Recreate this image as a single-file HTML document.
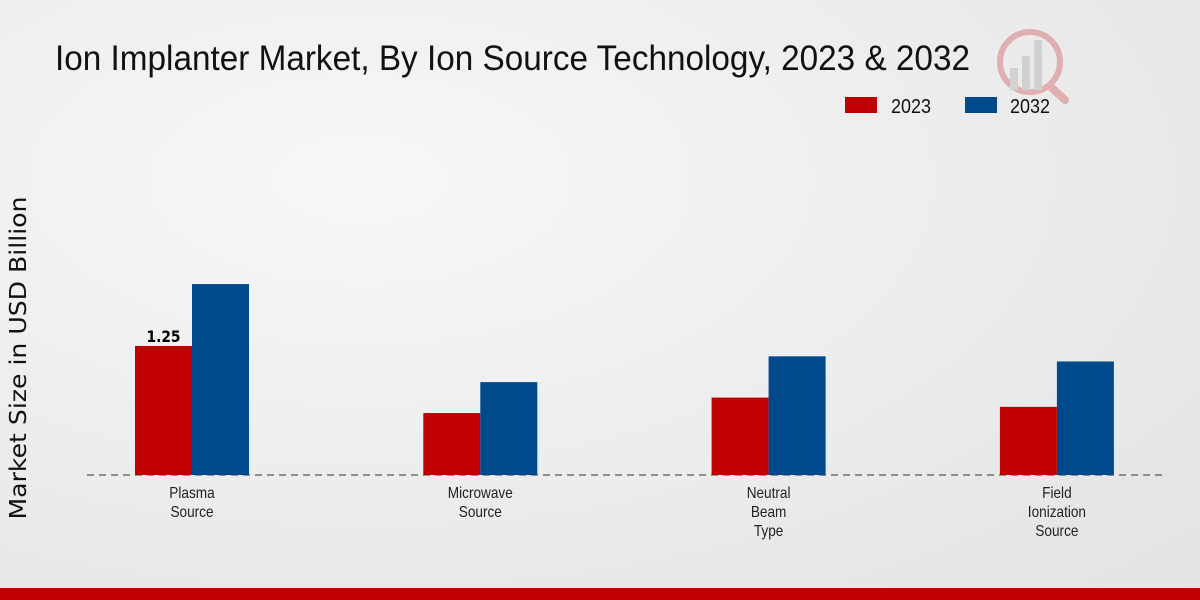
<!DOCTYPE html>
<html><head><meta charset="utf-8"><style>
html,body{margin:0;padding:0;width:1200px;height:600px;overflow:hidden}
body{background:radial-gradient(ellipse at 30% 30%,#f7f7f7 0%,#ececec 55%,#e3e3e3 100%);font-family:"Liberation Sans",sans-serif}
</style></head><body>
<svg id="chart" width="1200" height="600" style="position:absolute;left:0;top:0">
<g opacity="0.25">
<circle cx="1030" cy="62" r="30" fill="none" stroke="#c00000" stroke-width="6"/>
<rect x="1010" y="68" width="8" height="22" fill="#888"/><rect x="1022" y="56" width="8" height="34" fill="#888"/><rect x="1034" y="40" width="8" height="50" fill="#888"/>
<line x1="1052" y1="88" x2="1065" y2="100" stroke="#c00000" stroke-width="8" stroke-linecap="round"/>
</g>
<text x="55" y="70" font-size="35" fill="#111" textLength="915" lengthAdjust="spacingAndGlyphs">Ion Implanter Market, By Ion Source Technology, 2023 &amp; 2032</text>
<g>
<rect x="845" y="97" width="32" height="16" fill="#c00000"/>
<text x="891" y="113" font-size="20" fill="#111" textLength="40" lengthAdjust="spacingAndGlyphs">2023</text>
<rect x="965" y="97" width="32" height="16" fill="#004a8c"/>
<text x="1010" y="113" font-size="20" fill="#111" textLength="40" lengthAdjust="spacingAndGlyphs">2032</text>
</g>
<text transform="translate(26,358) rotate(-90)" text-anchor="middle" font-size="23" fill="#111" font-family="DejaVu Sans, sans-serif" textLength="323" lengthAdjust="spacingAndGlyphs">Market Size in USD Billion</text>
<line x1="87" y1="475" x2="1163" y2="475" stroke="#333" stroke-dasharray="7,5" stroke-width="1"/>
<g id="bars"></g>
<g id="labels"></g>
<rect x="0" y="588" width="1200" height="12" fill="#c00000"/>
</svg>
<script>
const categories=[["Plasma","Source"],["Microwave","Source"],["Neutral","Beam","Type"],["Field","Ionization","Source"]];
const values2023=[1.25,0.60,0.75,0.66];
const values2032=[1.85,0.90,1.15,1.10];
const shownLabels2023=["1.25",null,null,null];
const ns="http://www.w3.org/2000/svg";
const base=475,scale=103.2;
function yPos(v){return base-v*scale;}
function xCenter(i){return 192+i*288.3;}
const bw=57;
const bars=document.getElementById('bars'),labels=document.getElementById('labels');
categories.forEach((c,i)=>{
  const cx=xCenter(i);
  [[values2023,"#c00000",-bw,"2023"],[values2032,"#004a8c",0,"2032"]].forEach(([arr,col,off,yr])=>{
    const r=document.createElementNS(ns,'rect');
    r.setAttribute('x',cx+off);r.setAttribute('y',yPos(arr[i]));
    r.setAttribute('width',bw);r.setAttribute('height',base-yPos(arr[i]));
    r.setAttribute('fill',col);
    
    
    bars.appendChild(r);
  });
  if(shownLabels2023[i]){
    const t=document.createElementNS(ns,'text');
    t.setAttribute('x',cx-bw/2);t.setAttribute('y',yPos(values2023[i])-4);
    t.setAttribute('text-anchor','middle');t.setAttribute('font-size','16');t.setAttribute('font-weight','bold');
    t.setAttribute('font-family','DejaVu Sans, sans-serif');
    t.setAttribute('textLength','34');t.setAttribute('lengthAdjust','spacingAndGlyphs');
    t.textContent=shownLabels2023[i];
    
    
    labels.appendChild(t);
  }
  c.forEach((line,j)=>{
    const t=document.createElementNS(ns,'text');
    t.setAttribute('x',cx);t.setAttribute('y',498+j*19);
    t.setAttribute('text-anchor','middle');t.setAttribute('font-size','16');t.setAttribute('fill','#222');
    t.textContent=line;
    
    
    labels.appendChild(t);
    const w=t.getComputedTextLength();
    t.setAttribute('textLength',(w*0.85).toFixed(1));
    t.setAttribute('lengthAdjust','spacingAndGlyphs');
  });
});
</script>
</body></html>
